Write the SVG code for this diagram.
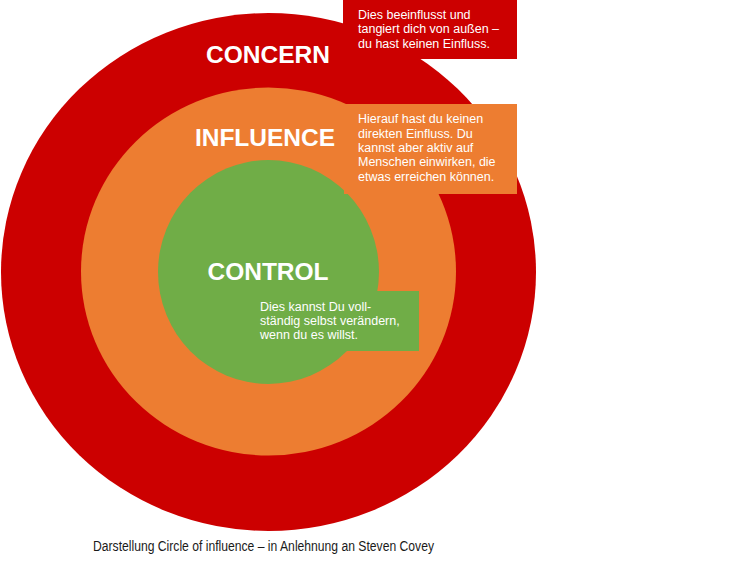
<svg xmlns="http://www.w3.org/2000/svg" width="735" height="562" viewBox="0 0 735 562">
  <style>
    .ring-title { font-family: "Liberation Sans", Arial, sans-serif; font-weight: bold; font-size: 24.5px; fill: #ffffff; text-anchor: middle; }
    .note { font-family: "Liberation Sans", Arial, sans-serif; font-size: 12.5px; fill: #ffffff; }
    .caption { font-family: "Liberation Sans", Arial, sans-serif; font-size: 14px; fill: #1a1a1a; }
    .red { fill: #cc0000; }
    .orange { fill: #ed7d31; }
    .green { fill: #70ad47; }
  </style>
  <rect width="735" height="562" fill="#ffffff"/>

  <!-- Outer ring: concern -->
  <g id="concern">
    <ellipse class="red" cx="268.5" cy="272" rx="267.5" ry="259"/>
    <text class="ring-title" x="268" y="63">CONCERN</text>
  </g>

  <!-- Middle ring: influence -->
  <g id="influence">
    <ellipse class="orange" cx="268.5" cy="271.5" rx="187.5" ry="184"/>
    <text class="ring-title" x="265" y="146">INFLUENCE</text>
  </g>

  <!-- Inner circle: control -->
  <g id="control">
    <ellipse class="green" cx="268.5" cy="272" rx="110.5" ry="112"/>
    <text class="ring-title" x="268" y="280">CONTROL</text>
  </g>

  <!-- Explanatory notes -->
  <g id="note-concern">
    <rect class="red" x="343" y="0" width="174" height="59"/>
    <text class="note" x="358" y="19">Dies beeinflusst und</text>
    <text class="note" x="358" y="33.3">tangiert dich von außen –</text>
    <text class="note" x="358" y="47.6">du hast keinen Einfluss.</text>
  </g>

  <g id="note-influence">
    <rect class="orange" x="344" y="104" width="173" height="90"/>
    <text class="note" x="358" y="123.3">Hierauf hast du keinen</text>
    <text class="note" x="358" y="137.6">direkten Einfluss. Du</text>
    <text class="note" x="358" y="151.9">kannst aber aktiv auf</text>
    <text class="note" x="358" y="166.2">Menschen einwirken, die</text>
    <text class="note" x="358" y="180.5">etwas erreichen können.</text>
  </g>

  <g id="note-control">
    <rect class="green" x="250" y="291" width="169" height="60"/>
    <text class="note" x="260" y="310.7">Dies kannst Du voll-</text>
    <text class="note" x="260" y="325">ständig selbst verändern,</text>
    <text class="note" x="260" y="339.3">wenn du es willst.</text>
  </g>

  <g id="caption">
    <text class="caption" x="93" y="551" textLength="341" lengthAdjust="spacingAndGlyphs">Darstellung Circle of influence – in Anlehnung an Steven Covey</text>
  </g>
</svg>
